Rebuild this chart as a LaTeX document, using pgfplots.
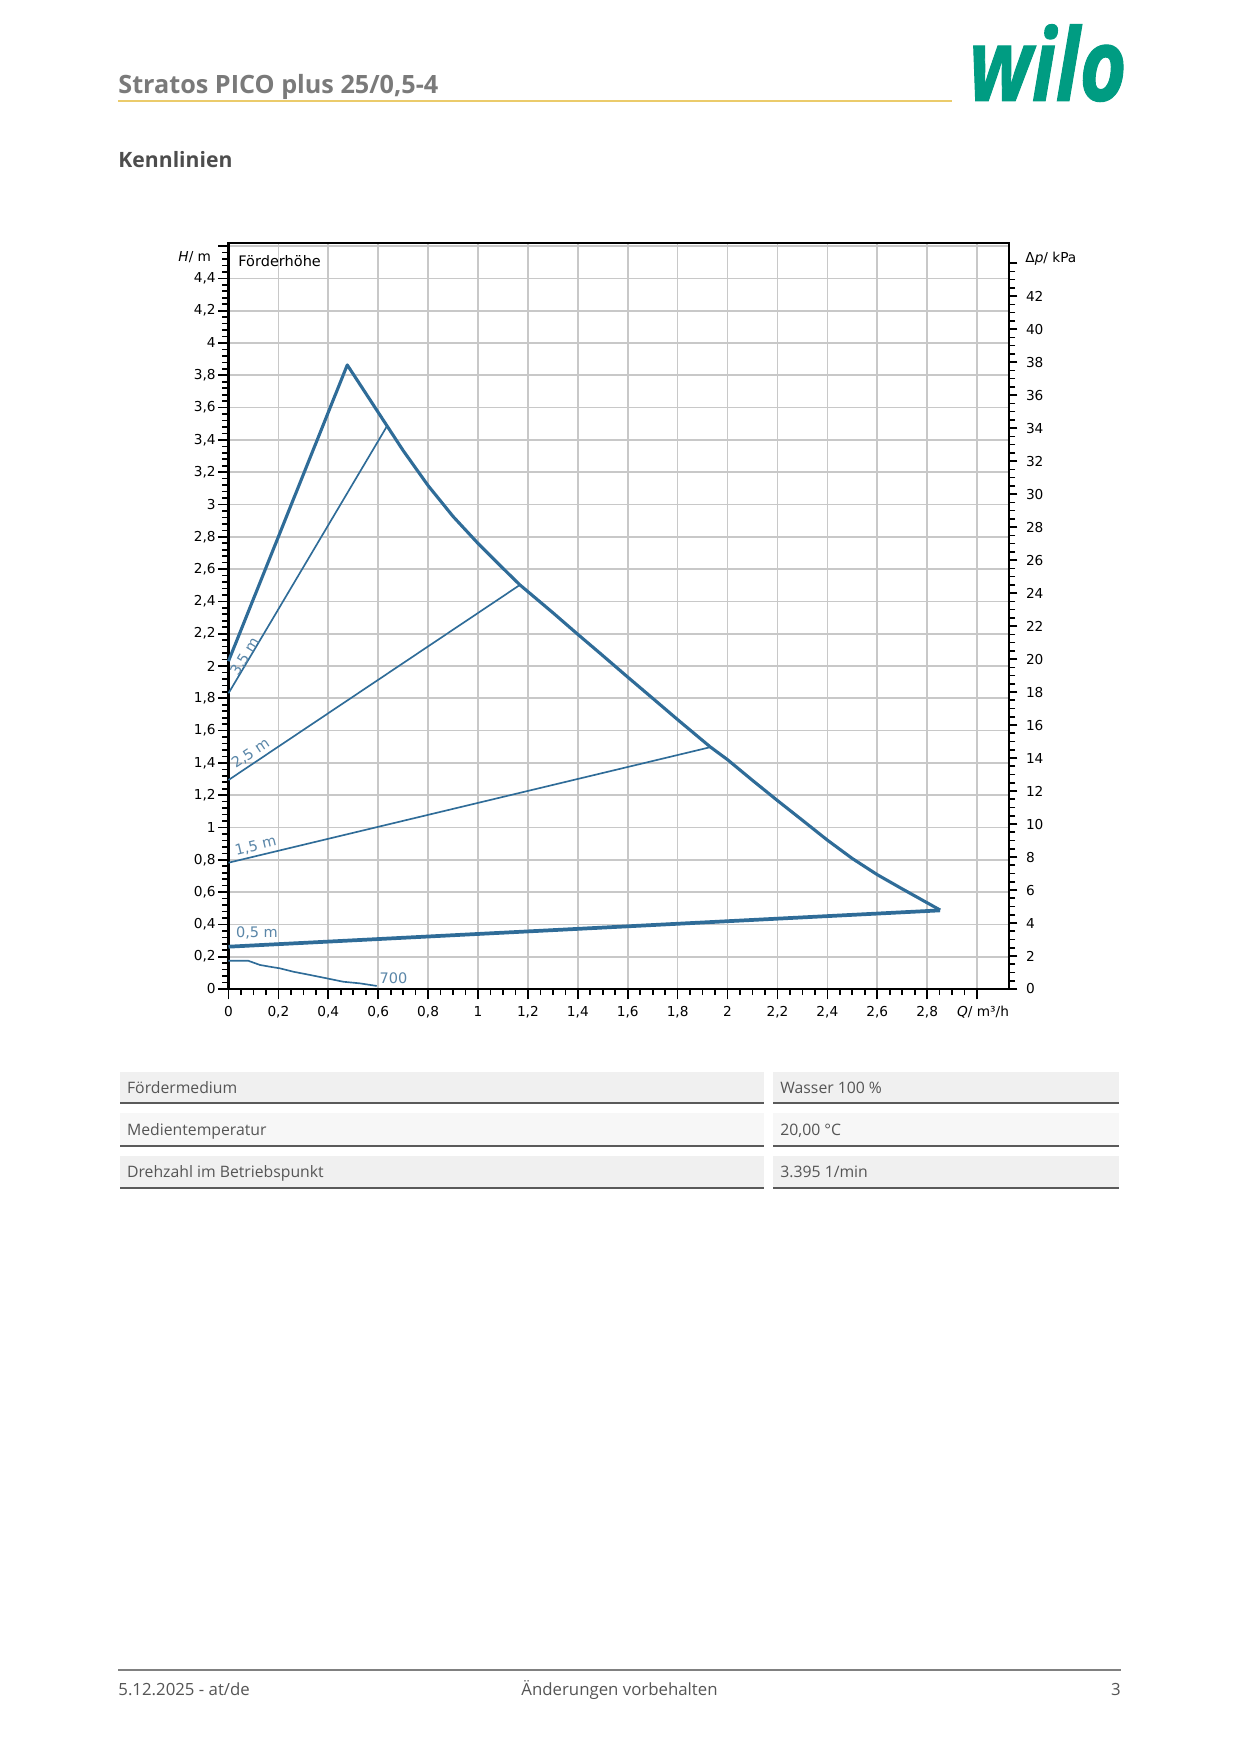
\documentclass[border=0pt]{standalone}
\usepackage{fontspec}
\setmainfont{Open Sans}
\newfontfamily\chartfont{DejaVu Sans}
\newfontfamily\logofont[FakeBold=1.2]{Open Sans}
\usepackage{pgfplots}
\pgfplotsset{compat=1.18}
\definecolor{wblue}{HTML}{2F6C98}
\definecolor{wlabel}{HTML}{5A86A8}
\definecolor{wgrid}{HTML}{C8C8C8}
\definecolor{wgreen}{HTML}{009C82}
\definecolor{wtitle}{HTML}{7A7A7A}
\definecolor{whead}{HTML}{4D4D4D}
\definecolor{wyellow}{HTML}{EBCB6B}
\definecolor{wtext}{HTML}{555555}
\definecolor{wband}{HTML}{F0F0F0}
\definecolor{wbandb}{HTML}{F7F7F7}
\definecolor{wrule}{HTML}{5A5A5A}
\newcommand{\cf}{\chartfont\fontsize{6.6}{7.5}\selectfont}
\newcommand{\cfl}{\chartfont\fontsize{7}{8}\selectfont}
\newcommand{\tf}{\fontsize{7.6}{9}\selectfont}
\newcommand{\ff}{\fontsize{8.1}{10}\selectfont}

\begin{document}
\begin{tikzpicture}
\begin{scope}[x=0.48225pt,y=-0.48225pt]
\path[use as bounding box,fill=white] (0,0) rectangle (1239,1753);
% header
\node[anchor=base west,inner sep=0,text=wtitle,font=\fontsize{12.15}{14}\selectfont\bfseries] at (118,93.3) {Stratos PICO plus 25/0,5-4};
\draw[wyellow,line width=0.6pt] (118,101) -- (952,101);
\node[anchor=base east,inner sep=0,text=wgreen,font=\logofont\fontsize{44}{44}\selectfont\bfseries\itshape,xscale=0.88,yscale=1.1] at (1127,100.7) {wilo};
\node[anchor=base west,inner sep=0,text=whead,font=\fontsize{10.2}{12}\selectfont\bfseries] at (118,167.7) {Kennlinien};
% table
\fill[wband] (120,1071.7) rectangle (764,1103.3);
\fill[wband] (773,1071.7) rectangle (1119,1103.3);
\fill[wbandb] (120,1113.3) rectangle (764,1146);
\fill[wbandb] (773,1113.3) rectangle (1119,1146);
\fill[wband] (120,1155.7) rectangle (764,1188.3);
\fill[wband] (773,1155.7) rectangle (1119,1188.3);
\foreach \yy in {1103.3,1146,1188.3}{
  \draw[wrule,line width=1pt] (120,\yy) -- (764,\yy);
  \draw[wrule,line width=1pt] (773,\yy) -- (1119,\yy);
}
\node[anchor=base west,inner sep=0,text=wtext,font=\tf] at (126.7,1093.3) {Fördermedium};
\node[anchor=base west,inner sep=0,text=wtext,font=\tf] at (780,1093.3) {Wasser 100 \%};
\node[anchor=base west,inner sep=0,text=wtext,font=\tf] at (126.7,1135.5) {Medientemperatur};
\node[anchor=base west,inner sep=0,text=wtext,font=\tf] at (780,1135.5) {20,00 °C};
\node[anchor=base west,inner sep=0,text=wtext,font=\tf] at (126.7,1177.8) {Drehzahl im Betriebspunkt};
\node[anchor=base west,inner sep=0,text=wtext,font=\tf] at (780,1177.8) {3.395 1/min};
% footer
\draw[gray,line width=0.6pt] (118,1670) -- (1121,1670);
\node[anchor=base west,inner sep=0,text=wtext,font=\ff] at (118,1695) {5.12.2025 - at/de};
\node[anchor=base,inner sep=0,text=wtext,font=\ff] at (619.5,1695) {Änderungen vorbehalten};
\node[anchor=base east,inner sep=0,text=wtext,font=\ff] at (1121,1695) {3};
\end{scope}

\begin{axis}[
  at={(110.19pt,-476.95pt)}, anchor=south west,
  scale only axis, width=376.4pt, height=359.9pt,
  xmin=0, xmax=3.128, ymin=0, ymax=4.621,
  axis line style={line width=1.1pt, black},
  tick style={black, line width=0.8pt},
  tick align=outside,
  major tick length=5pt, minor tick length=3pt,
  xtick pos=bottom, ytick pos=left,
  xtick={0,0.2,0.4,0.6,0.8,1,1.2,1.4,1.6,1.8,2,2.2,2.4,2.6,2.8,3},
  xticklabels={0,{0,2},{0,4},{0,6},{0,8},1,{1,2},{1,4},{1,6},{1,8},2,{2,2},{2,4},{2,6},{2,8},{}},
  ytick={0,0.2,0.4,0.6,0.8,1,1.2,1.4,1.6,1.8,2,2.2,2.4,2.6,2.8,3,3.2,3.4,3.6,3.8,4,4.2,4.4,4.6},
  yticklabels={0,{0,2},{0,4},{0,6},{0,8},1,{1,2},{1,4},{1,6},{1,8},2,{2,2},{2,4},{2,6},{2,8},3,{3,2},{3,4},{3,6},{3,8},4,{4,2},{4,4},{}},
  minor x tick num=3, minor y tick num=4,
  grid=major, major grid style={wgrid, line width=0.8pt},
  ticklabel style={font=\cf, inner sep=1pt},
  xticklabel style={yshift=-2pt, anchor=north, text height=5pt, text depth=1.3pt},
  clip=false,
]
\addplot[wblue, line width=1.5pt, line join=round] coordinates {
(0,2.03) (0.476,3.864) (0.634,3.49) (0.70,3.334) (0.80,3.117) (0.90,2.926)
(1.00,2.759) (1.10,2.605) (1.168,2.502) (1.30,2.33) (1.40,2.196)
(1.489,2.079) (1.598,1.934) (1.70,1.80) (1.80,1.668) (1.93,1.50) (2.00,1.42)
(2.10,1.292) (2.20,1.167) (2.30,1.045) (2.40,0.922) (2.50,0.808) (2.60,0.708)
(2.70,0.620) (2.852,0.489)};
\addplot[wblue, line width=1.8pt] coordinates {(0,0.262) (2.852,0.487)};
\addplot[wblue, line width=0.8pt] coordinates {(0,1.831) (0.634,3.482)};
\addplot[wblue, line width=0.8pt] coordinates {(0,1.294) (1.166,2.50)};
\addplot[wblue, line width=0.8pt] coordinates {(0,0.782) (1.930,1.497)};
\addplot[wblue, line width=0.8pt, line join=round] coordinates {
(0,0.175) (0.079,0.175) (0.126,0.149) (0.166,0.138) (0.206,0.128) (0.260,0.107)
(0.327,0.087) (0.394,0.066) (0.460,0.045) (0.527,0.035) (0.594,0.019)};
\node[font=\cfl, text=wlabel, rotate=59, inner sep=0] at (axis cs:0.066,2.058) {3,5 m};
\node[font=\cfl, text=wlabel, rotate=34, inner sep=0] at (axis cs:0.089,1.459) {2,5 m};
\node[font=\cfl, text=wlabel, rotate=13.5, inner sep=0] at (axis cs:0.109,0.885) {1,5 m};
\node[font=\cfl, text=wlabel, inner sep=0] at (axis cs:0.114,0.345) {0,5 m};
\node[font=\cfl, text=wlabel, inner sep=0] at (axis cs:0.661,0.066) {700};
\node[font=\cfl, anchor=west, inner sep=0] at (axis cs:0.038,4.51) {Förderhöhe};
\node[font=\cf, anchor=east, inner sep=0] at ([xshift=-8.2pt]axis cs:0,4.53) {\textit{H}/ m};
\node[font=\cf, inner sep=0] at ([yshift=-11.4pt]axis cs:3.024,0) {\textit{Q}/ m³/h};
\end{axis}

\begin{axis}[
  at={(110.19pt,-476.95pt)}, anchor=south west,
  scale only axis, width=376.4pt, height=359.9pt,
  xmin=0, xmax=3.128, ymin=0, ymax=45.24,
  axis x line=none, axis y line*=right,
  axis line style={line width=1.1pt, black},
  tick style={black, line width=0.8pt},
  tick align=outside,
  major tick length=4pt, minor tick length=3pt,
  ytick={0,2,4,6,8,10,12,14,16,18,20,22,24,26,28,30,32,34,36,38,40,42,44},
  yticklabels={0,2,4,6,8,10,12,14,16,18,20,22,24,26,28,30,32,34,36,38,40,42,{}},
  minor y tick num=3,
  ticklabel style={font=\cf, inner sep=1pt},
  yticklabel style={xshift=3pt},
  clip=false,
]
\node[font=\cf, anchor=west, inner sep=0] at ([xshift=7.7pt]axis cs:3.128,44.29) {Δ\textit{p}/ kPa};
\end{axis}
\end{tikzpicture}
\end{document}
